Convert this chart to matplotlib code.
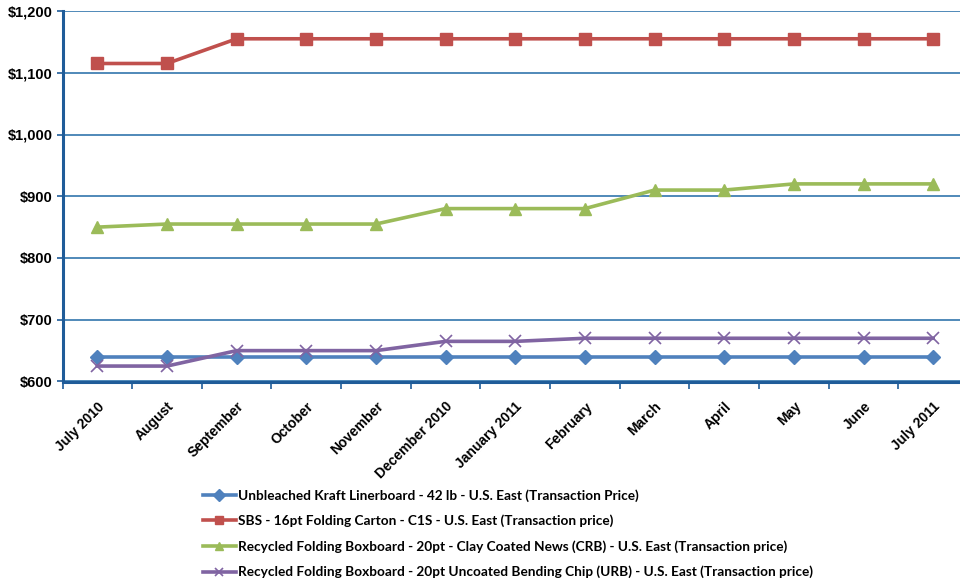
import matplotlib
matplotlib.use("Agg")
import matplotlib.pyplot as plt
import numpy as np

months = ["July 2010", "August", "September", "October", "November",
          "December 2010", "January 2011", "February", "March", "April",
          "May", "June", "July 2011"]

kraft_liner = [640, 640, 640, 640, 640, 640, 640, 640, 640, 640, 640, 640, 640]
sbs_carton = [1115, 1115, 1155, 1155, 1155, 1155, 1155, 1155, 1155, 1155, 1155, 1155, 1155]
crb_boxboard = [850, 855, 855, 855, 855, 880, 880, 880, 910, 910, 920, 920, 920]
urb_boxboard = [625, 625, 650, 650, 650, 665, 665, 670, 670, 670, 670, 670, 670]

series_labels = [
    "Unbleached Kraft Linerboard - 42 lb - U.S. East (Transaction Price)",
    "SBS - 16pt Folding Carton - C1S - U.S. East (Transaction price)",
    "Recycled Folding Boxboard - 20pt - Clay Coated News (CRB) - U.S. East (Transaction price)",
    "Recycled Folding Boxboard - 20pt Uncoated Bending Chip (URB) - U.S. East (Transaction price)",
]

y_ticks = [600, 700, 800, 900, 1000, 1100, 1200]

W, H = 960, 579
fig = plt.figure(figsize=(W / 100, H / 100), dpi=100)
left, right, top, bottom = 62.5, 968, 11, 381.5
ax = fig.add_axes([left / W, 1 - bottom / H, (right - left) / W, (bottom - top) / H])

x = np.arange(len(months))
styles = [
    (kraft_liner, "#4F81BD", "D", 7, 1.0),
    (sbs_carton, "#C0504D", "s", 8, 1.0),
    (crb_boxboard, "#9BBB59", "^", 8.5, 1.0),
    (urb_boxboard, "#8064A2", "x", 8, 1.2),
]
for (vals, col, mk, ms, mew), lab in zip(styles, series_labels):
    ax.plot(x, vals, color=col, lw=2.6, marker=mk, ms=ms, mec=col, mfc=col,
            mew=mew, label=lab, zorder=3, solid_joinstyle="round")

ax.set_xlim(-0.5, len(months) - 0.5)
ax.set_ylim(600, 1200)
ax.set_yticks(y_ticks)
ax.set_yticklabels([f"${v:,}" for v in y_ticks], fontfamily="Liberation Sans",
                   fontweight="bold", fontsize=10.5)
ax.set_xticks(x)
ax.set_xticklabels(months, rotation=45, ha="right", rotation_mode="anchor",
                   fontfamily="Liberation Sans", fontweight="bold", fontsize=10)
ax.set_xticks(np.arange(len(months) + 1) - 0.5, minor=True)
ax.tick_params(axis="x", which="major", length=0, pad=13)
ax.tick_params(axis="x", which="minor", length=5, width=1.2, color="#1F5C99",
               direction="out")
ax.tick_params(axis="y", length=4, width=1.2, color="#1F5C99", pad=3)

ax.yaxis.grid(True, color="#1F6AA5", lw=1.1)
ax.set_axisbelow(True)
for side in ("top", "right"):
    ax.spines[side].set_visible(False)
for side in ("left", "bottom"):
    ax.spines[side].set_color("#1F5C99")
    ax.spines[side].set_linewidth(2.2)

leg = fig.legend(loc="upper left", bbox_to_anchor=(203 / W, 1 - 489 / H),
                 frameon=False, handlelength=2.4, handletextpad=0.2,
                 labelspacing=0.95, borderaxespad=0, borderpad=0,
                 prop={"family": "Lato", "weight": "bold", "size": 9.8})
for h in leg.legend_handles:
    h.set_markersize(6)
    h.set_linewidth(2.6)

fig.savefig("out.png", dpi=100)
